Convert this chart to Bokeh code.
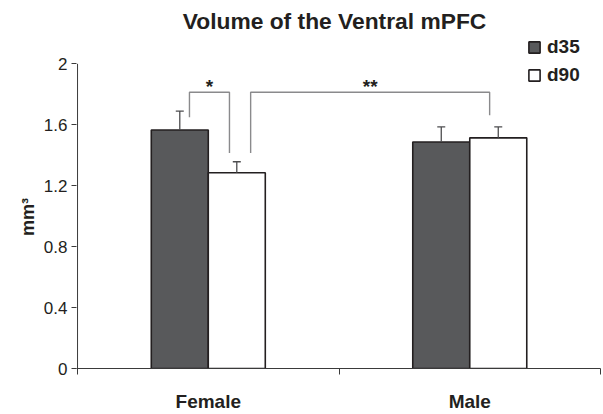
import json
from bokeh.plotting import figure
from bokeh.models import (ColumnDataSource, Range1d, FixedTicker, NumeralTickFormatter,
                          CustomJSTickFormatter, Whisker, TeeHead, Label, Legend, LegendItem)
from bokeh.core.properties import value
from bokeh.embed import file_html
from bokeh.resources import INLINE

# ---- data ----
categories = ["Female", "Male"]
cat_pos = [0.5, 1.5]
d35 = [1.566, 1.487]
d90 = [1.285, 1.514]
d35_err = [0.124, 0.099]
d90_err = [0.072, 0.072]
y_ticks = [0, 0.4, 0.8, 1.2, 1.6, 2.0]
y_max = 2.0

# significance brackets
sig_labels = ["*", "**"]
bracket_x0 = [0.428, 0.662]
bracket_x1 = [0.581, 1.576]
bracket_top = [1.813, 1.813]
bracket_left_bottom = [1.649, 1.415]
bracket_right_bottom = [1.415, 1.662]

FONT = "Liberation Sans"
TXT = "#231f20"
DARK = "#58595b"
AX = "#3a3a3a"
offset = 0.109
bw = 0.218

p = figure(width=603, height=414, min_border_left=76, min_border_right=3,
           min_border_top=0, min_border_bottom=42,
           x_range=Range1d(-0.004, 2), y_range=Range1d(0, 2.4156),
           output_backend="svg", toolbar_location=None, tools="")
p.outline_line_color = None
p.xgrid.visible = False
p.ygrid.visible = False
p.background_fill_color = "white"
p.border_fill_color = "white"

src35 = ColumnDataSource(dict(x=[c - offset for c in cat_pos], top=d35,
                              upper=[v + e for v, e in zip(d35, d35_err)]))
src90 = ColumnDataSource(dict(x=[c + offset for c in cat_pos], top=d90,
                              upper=[v + e for v, e in zip(d90, d90_err)]))

for src in (src35, src90):
    w = Whisker(source=src, base="x", lower="top", upper="upper", dimension="height",
                line_color="#4d4d4f", line_width=1.3,
                upper_head=TeeHead(size=8, line_color="#4d4d4f", line_width=1.3),
                lower_head=None, level="glyph")
    p.add_layout(w)

r35 = p.vbar(x="x", top="top", width=bw, source=src35, fill_color=DARK,
             line_color=TXT, line_width=1.6)
r90 = p.vbar(x="x", top="top", width=bw, source=src90, fill_color="white",
             line_color=TXT, line_width=1.6)

# y axis line only from 0 to the top tick
p.segment(x0=[0], y0=[0], x1=[0], y1=[y_max], line_color=AX, line_width=1)

# brackets
xs = [[a, a, b, b] for a, b in zip(bracket_x0, bracket_x1)]
ys = [[l, t, t, r] for l, t, r in zip(bracket_left_bottom, bracket_top, bracket_right_bottom)]
p.multi_line(xs=xs, ys=ys, line_color="#8a8a8c", line_width=1.4)
p.text(x=[(a + b) / 2 for a, b in zip(bracket_x0, bracket_x1)], y=bracket_top,
       text=sig_labels, text_align="center", text_baseline="alphabetic", y_offset=-6,
       text_font=value(FONT), text_font_style="bold", text_font_size="19px",
       text_color=TXT)

# axes
yax = p.yaxis[0]
yax.ticker = FixedTicker(ticks=y_ticks)
yax.formatter = NumeralTickFormatter(format="0.[0]")
yax.major_tick_in = 0
yax.major_tick_out = 5
yax.major_label_standoff = 4
yax.major_label_text_font = FONT
yax.major_label_text_font_size = "17px"
yax.major_label_text_color = TXT
yax.axis_line_color = None
yax.major_tick_line_color = AX
# trailing no-break spaces shift the centred label down to the middle of the 0..2 span
yax.axis_label = "mm³" + "\u00a0" * 13
yax.axis_label_text_font = FONT
yax.axis_label_text_font_style = "bold"
yax.axis_label_text_font_size = "18px"
yax.axis_label_text_color = TXT
yax.axis_label_standoff = 3

xax = p.xaxis[0]
xax.ticker = FixedTicker(ticks=cat_pos, minor_ticks=[0, 1, 2])
xax.formatter = CustomJSTickFormatter(
    code="const c = %s; return c[Math.floor(tick)];" % json.dumps(categories))
xax.major_tick_in = 0
xax.major_tick_out = 0
xax.minor_tick_in = 0
xax.minor_tick_out = 6
xax.major_label_standoff = 16
xax.major_label_text_font = FONT
xax.major_label_text_font_style = "bold"
xax.major_label_text_font_size = "19px"
xax.major_label_text_color = TXT
xax.axis_line_color = AX
xax.minor_tick_line_color = AX

# title (inside the tall frame, in screen units from frame bottom-left)
p.add_layout(Label(x=258, y=348, x_units="screen", y_units="screen",
                   text="Volume of the Ventral mPFC", text_align="center",
                   text_baseline="alphabetic", text_font=FONT,
                   text_font_style="bold", text_font_size="22.8px", text_color=TXT))

legend = Legend(items=[LegendItem(label="d35", renderers=[r35]),
                       LegendItem(label="d90", renderers=[r90])],
                location=(451, 282), orientation="vertical",
                glyph_width=14, glyph_height=14, label_height=14, spacing=6,
                label_standoff=6, padding=0, margin=0,
                label_text_font=FONT, label_text_font_style="bold",
                label_text_font_size="19px", label_text_color=TXT,
                border_line_color=None, background_fill_alpha=0)
p.add_layout(legend, "center")

open("out.html", "w").write(file_html(p, INLINE))
